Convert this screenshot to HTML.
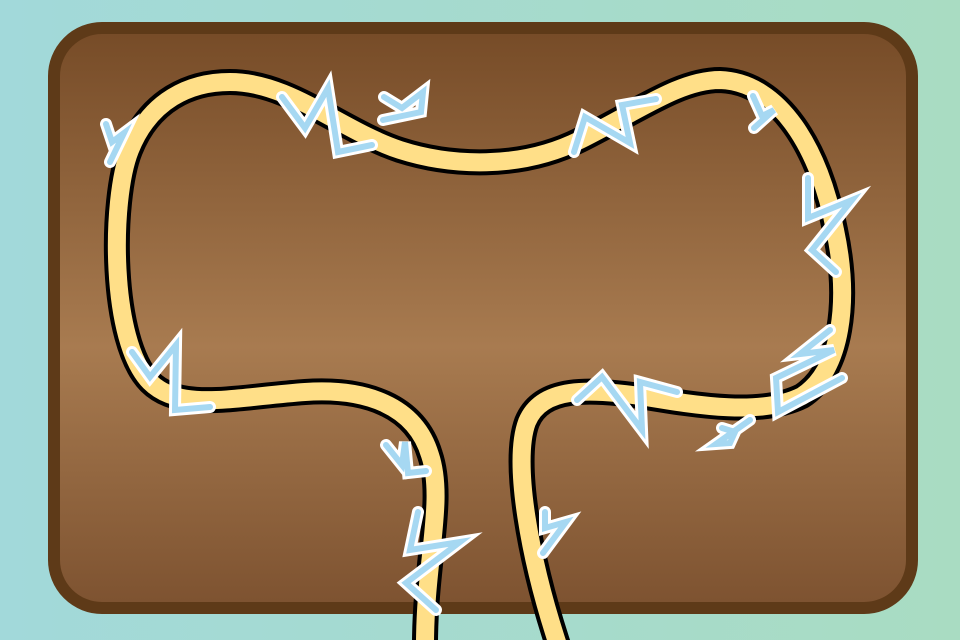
<!DOCTYPE html>
<html><head><meta charset="utf-8"><style>html,body{margin:0;padding:0;width:960px;height:640px;overflow:hidden}</style></head>
<body>
<svg width="960" height="640" viewBox="0 0 960 640">
<defs>
<linearGradient id="bg" x1="0" x2="1" y1="0" y2="0"><stop offset="0" stop-color="#a2d9da"/><stop offset="1" stop-color="#a9dcc2"/></linearGradient>
<linearGradient id="wood" x1="0" x2="0" y1="0" y2="1"><stop offset="0" stop-color="#764b27"/><stop offset="0.55" stop-color="#a87b50"/><stop offset="1" stop-color="#7d5230"/></linearGradient>
</defs>
<rect width="960" height="640" fill="url(#bg)"/>
<rect x="54" y="28" width="858" height="580" rx="48" fill="url(#wood)" stroke="#5e3a18" stroke-width="12"/>
<g fill="none" stroke-linecap="butt" stroke-linejoin="round">
<path d="M425,645 C425,560 445,500 430,455 C415,405 365,388 305,392 C235,397 180,412 150,382 C110,342 110,200 130,150 C150,100 190,82 230,82 C290,82 340,130 400,150 C450,166 520,170 580,140 C640,110 680,80 720,80 C780,82 820,150 835,230 C850,300 842,370 802,396 C762,416 700,406 640,396 C590,389 542,386 527,422 C512,462 530,560 558,645" stroke="#000" stroke-width="26"/>
<path d="M425,645 C425,560 445,500 430,455 C415,405 365,388 305,392 C235,397 180,412 150,382 C110,342 110,200 130,150 C150,100 190,82 230,82 C290,82 340,130 400,150 C450,166 520,170 580,140 C640,110 680,80 720,80 C780,82 820,150 835,230 C850,300 842,370 802,396 C762,416 700,406 640,396 C590,389 542,386 527,422 C512,462 530,560 558,645" stroke="#ffdf88" stroke-width="18"/>
</g>
<g fill="none" stroke-linejoin="miter" stroke-miterlimit="6" stroke-linecap="round">
<g stroke="#fff" stroke-width="12">
<polyline points="282,97 305,128 328,88 338,152 372,145"/>
<polyline points="384,97 402,108 423,92 421,112 383,120"/>
<polyline points="106,124 112,142 124,133 110,162"/>
<polyline points="574,152 585,117 630,143 622,105 656,99"/>
<polyline points="753,96 762,116 774,110 754,128"/>
<polyline points="808,178 808,218 852,200 812,250 836,272"/>
<polyline points="830,330 800,354 834,350 776,378 778,412 842,378"/>
<polyline points="577,400 602,377 642,430 640,382 677,392"/>
<polyline points="722,428 735,432 730,443 716,444 750,420"/>
<polyline points="132,352 150,377 176,345 175,410 210,407"/>
<polyline points="386,445 402,465 405,442 408,473 426,471"/>
<polyline points="418,512 410,550 460,542 406,583 436,610"/>
<polyline points="545,512 545,528 566,522 543,553"/>
</g>
<g stroke="#a6d8f2" stroke-width="6">
<polyline points="282,97 305,128 328,88 338,152 372,145"/>
<polyline points="384,97 402,108 423,92 421,112 383,120"/>
<polyline points="106,124 112,142 124,133 110,162"/>
<polyline points="574,152 585,117 630,143 622,105 656,99"/>
<polyline points="753,96 762,116 774,110 754,128"/>
<polyline points="808,178 808,218 852,200 812,250 836,272"/>
<polyline points="830,330 800,354 834,350 776,378 778,412 842,378"/>
<polyline points="577,400 602,377 642,430 640,382 677,392"/>
<polyline points="722,428 735,432 730,443 716,444 750,420"/>
<polyline points="132,352 150,377 176,345 175,410 210,407"/>
<polyline points="386,445 402,465 405,442 408,473 426,471"/>
<polyline points="418,512 410,550 460,542 406,583 436,610"/>
<polyline points="545,512 545,528 566,522 543,553"/>
</g>
</g>
</svg>
</body></html>
